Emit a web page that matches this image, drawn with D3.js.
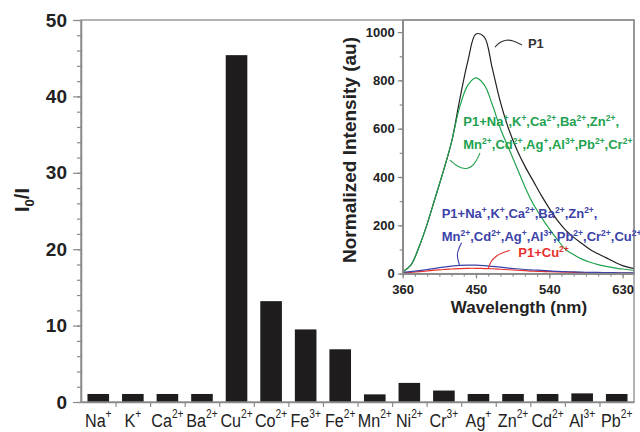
<!DOCTYPE html>
<html>
<head>
<meta charset="utf-8">
<script src="https://cdn.jsdelivr.net/npm/d3@7"></script>
<style>
body {margin:0; background:#fff}
svg {display:block}
text {font-family:"Liberation Sans", Arial, sans-serif}
</style>
</head>
<body>
<script>
const W = 640, H = 432

// main bars: I0/I for each ion
const ions    = ["Na","K","Ca","Ba","Cu","Co","Fe","Fe","Mn","Ni","Cr","Ag","Zn","Cd","Al","Pb"]
const charges = ["+","+","2+","2+","2+","2+","3+","2+","2+","2+","3+","+","2+","2+","3+","2+"]
const ratios  = [1.05,1.05,1.05,1.05,45.4,13.2,9.5,6.9,1.0,2.5,1.5,1.05,1.05,1.05,1.13,1.05]
const yTicks  = [0,10,20,30,40,50]

// inset spectra
const wavelengths = [360,370,380,390,400,410,420,430,440,450,460,470,480,490,500,510,520,530,540,550,560,570,580,590,600,610,620,630,640,650]
const p1      = [8,35,110,205,315,425,545,720,880,992,980,850,710,600,515,445,385,325,270,220,180,150,125,100,82,65,48,33,24,18]
const p1Mix   = [8,35,110,205,315,425,545,690,780,810,782,700,600,520,440,360,290,235,185,140,100,78,60,47,37,30,24,19,15,12]
const p1MixCu = [5,8,12,17,22,27,31,34,35,35,33,30,27,23,20,17,15,13,11,9,8,7,6,5,5,4,4,3,3,3]
const p1Cu    = [3,5,8,11,14,17,19,21,22,22,21,20,18,16,14,12,10,9,8,7,6,5,4,4,3,3,3,2,2,2]
const insetYTicks = [0,200,400,600,800,1000]
const insetXTicks = [360,450,540,630]

const greenLabel = [
  [["P1+Na","+"],[",K","+"],[",Ca","2+"],[",Ba","2+"],[",Zn","2+"],[",",""]],
  [["Mn","2+"],[",Cd","2+"],[",Ag","+"],[",Al","3+"],[",Pb","2+"],[",Cr","2+"]]
]
const blueLabel = [
  [["P1+Na","+"],[",K","+"],[",Ca","2+"],[",Ba","2+"],[",Zn","2+"],[",",""]],
  [["Mn","2+"],[",Cd","2+"],[",Ag","+"],[",Al","3+"],[",Pb","2+"],[",Cr","2+"],[",Cu","2+"]]
]
const redLabel = [[["P1+Cu","2+"]]]

const frameCol = "#8a8a8a"
const green = "#22a24f", blue = "#3b42a8", red = "#e8302c"

const svg = d3.select("body").append("svg").attr("width", W).attr("height", H)

// writes base text + superscripts into a <text>
function rich(sel, parts, supSize, rise) {
  let up = false
  parts.forEach(([b, s]) => {
    sel.append("tspan").attr("dy", up ? rise : 0).text(b)
    up = false
    if (s) {
      sel.append("tspan").attr("dy", -rise).attr("font-size", supSize).text(s)
      up = true
    }
  })
}

/* ---------- main chart ---------- */
const m = {l: 81, r: 634, t: 20, b: 402}

const x = d3.scaleBand().domain(d3.range(ions.length)).range([m.l, m.r])
  .paddingInner(0.375).paddingOuter(0.1875)
const y = d3.scaleLinear().domain([0, 50]).range([m.b, m.t])
const edge = d3.scaleLinear().domain([0, ions.length]).range([m.l, m.r])

svg.append("g").selectAll("rect")
  .data(ratios)
  .enter().append("rect")
  .attr("x", (d, i) => x(i))
  .attr("width", x.bandwidth())
  .attr("y", d => y(d))
  .attr("height", d => y(0) - y(d))
  .attr("fill", "#1e1c1c")

// minor + major y ticks
svg.append("g").attr("class", "ax")
  .attr("transform", `translate(${m.l},0)`)
  .call(d3.axisLeft(y).tickValues(d3.range(0, 51, 2)).tickSize(4).tickSizeOuter(0).tickFormat(""))
svg.append("g").attr("class", "ax")
  .attr("transform", `translate(${m.l},0)`)
  .call(d3.axisLeft(y).tickValues(yTicks).tickSize(8).tickSizeOuter(0).tickPadding(6))
  .selectAll("text")
  .attr("font-size", 19).attr("font-weight", "bold").attr("fill", "#222")
  .attr("font-family", "Liberation Sans, Arial, sans-serif")

svg.append("g").attr("class", "ax")
  .attr("transform", `translate(0,${m.b})`)
  .call(d3.axisBottom(edge).tickValues(d3.range(1, ions.length)).tickSize(5).tickSizeOuter(0).tickFormat(""))

svg.append("rect")
  .attr("x", m.l).attr("y", m.t)
  .attr("width", m.r - m.l).attr("height", m.b - m.t)
  .attr("fill", "none").attr("stroke", frameCol).attr("stroke-width", 1.3)

ions.forEach((ion, i) => {
  const t = svg.append("text")
    .attr("transform", `translate(${x(i) + x.bandwidth() / 2},427) scale(0.85,1)`)
    .attr("text-anchor", "middle")
    .attr("font-size", 19).attr("fill", "#222")
  rich(t, [[ion, charges[i]]], 12, 9)
})

const yt = svg.append("text")
  .attr("transform", "translate(29,200) rotate(-90)")
  .attr("text-anchor", "middle")
  .attr("font-size", 20).attr("font-weight", "bold").attr("fill", "#222")
yt.append("tspan").text("I")
yt.append("tspan").attr("dy", 5).attr("font-size", 13).text("0")
yt.append("tspan").attr("dy", -5).text("/I")

/* ---------- inset ---------- */
const ib = {l: 402.7, r: 634, t: 20, b: 273.6}
const ix = d3.scaleLinear().domain([360, 644]).range([ib.l, ib.r])
const iy = d3.scaleLinear().domain([0, 1050]).range([ib.b, ib.t])

svg.append("clipPath").attr("id", "insetClip")
  .append("rect").attr("x", ib.l).attr("y", ib.t)
  .attr("width", ib.r - ib.l).attr("height", ib.b - ib.t)

const line = d3.line()
  .x((d, i) => ix(wavelengths[i]))
  .y(d => iy(d))
  .curve(d3.curveCatmullRom.alpha(0.5))

const curves = [
  {v: p1Cu, col: red},
  {v: p1MixCu, col: blue},
  {v: p1, col: "#222"},
  {v: p1Mix, col: green}
]
svg.append("g").attr("clip-path", "url(#insetClip)")
  .selectAll("path")
  .data(curves)
  .enter().append("path")
  .attr("d", d => line(d.v))
  .attr("fill", "none")
  .attr("stroke", d => d.col)
  .attr("stroke-width", 1.2)

svg.append("g").attr("class", "ax")
  .attr("transform", `translate(${ib.l},0)`)
  .call(d3.axisLeft(iy).tickValues(d3.range(0, 1001, 100)).tickSize(3).tickSizeOuter(0).tickFormat(""))
svg.append("g").attr("class", "ax")
  .attr("transform", `translate(${ib.l},0)`)
  .call(d3.axisLeft(iy).tickValues(insetYTicks).tickSize(5).tickSizeOuter(0).tickPadding(3).tickFormat(d3.format("d")))
  .selectAll("text")
  .attr("font-size", 13).attr("font-weight", "bold").attr("fill", "#222")
  .attr("font-family", "Liberation Sans, Arial, sans-serif")

svg.append("g").attr("class", "ax")
  .attr("transform", `translate(0,${ib.b})`)
  .call(d3.axisBottom(ix).tickValues(d3.range(360, 644, 15)).tickSize(3).tickSizeOuter(0).tickFormat(""))
svg.append("g").attr("class", "ax")
  .attr("transform", `translate(0,${ib.b})`)
  .call(d3.axisBottom(ix).tickValues(insetXTicks).tickSize(5).tickSizeOuter(0).tickPadding(6).tickFormat(d3.format("d")))
  .selectAll("text")
  .attr("font-size", 13).attr("font-weight", "bold").attr("fill", "#222")
  .attr("font-family", "Liberation Sans, Arial, sans-serif")

svg.append("rect")
  .attr("x", ib.l).attr("y", ib.t)
  .attr("width", ib.r - ib.l).attr("height", ib.b - ib.t)
  .attr("fill", "none").attr("stroke", frameCol).attr("stroke-width", 1.3)

svg.selectAll(".ax path.domain").attr("stroke", frameCol).attr("stroke-width", 1.3)
svg.selectAll(".ax line").attr("stroke", frameCol).attr("stroke-width", 1.2)

svg.append("text")
  .attr("x", 519).attr("y", 313)
  .attr("text-anchor", "middle")
  .attr("font-size", 17).attr("font-weight", "bold").attr("fill", "#222")
  .text("Wavelength (nm)")

svg.append("text")
  .attr("transform", "translate(356,150) rotate(-90)")
  .attr("text-anchor", "middle")
  .attr("font-size", 19).attr("font-weight", "bold").attr("fill", "#222")
  .text("Normalized Intensity (au)")

// annotations (positions in data units of the inset)
const leader = d3.line().x(d => ix(d[0])).y(d => iy(d[1])).curve(d3.curveBasis)

const notes = [
  {col: "#333", pts: [[473.3,938],[480,960],[487,968],[495,966],[506.5,946]], at: [513.8,933], lines: [[["P1",""]]]},
  {col: green, pts: [[454.9,499],[449,455],[440,430],[428,440],[418.1,470]], at: [434.4,611], lines: greenLabel},
  {col: blue, pts: [[432.4,128],[429,105],[426.5,80],[428,55],[429.7,36]], at: [407.9,230], lines: blueLabel},
  {col: red, pts: [[465.1,22],[468,50],[474,72],[483,88],[491.7,96]], at: [501.9,70], lines: redLabel}
]

notes.forEach(n => {
  svg.append("path")
    .attr("d", leader(n.pts))
    .attr("fill", "none").attr("stroke", n.col).attr("stroke-width", 1.1)
  n.lines.forEach((parts, k) => {
    const t = svg.append("text")
      .attr("x", ix(n.at[0])).attr("y", iy(n.at[1]) + k * 22.5)
      .attr("font-size", 13).attr("font-weight", "bold").attr("fill", n.col)
    rich(t, parts, 8.5, 5)
  })
})
</script>
</body>
</html>
